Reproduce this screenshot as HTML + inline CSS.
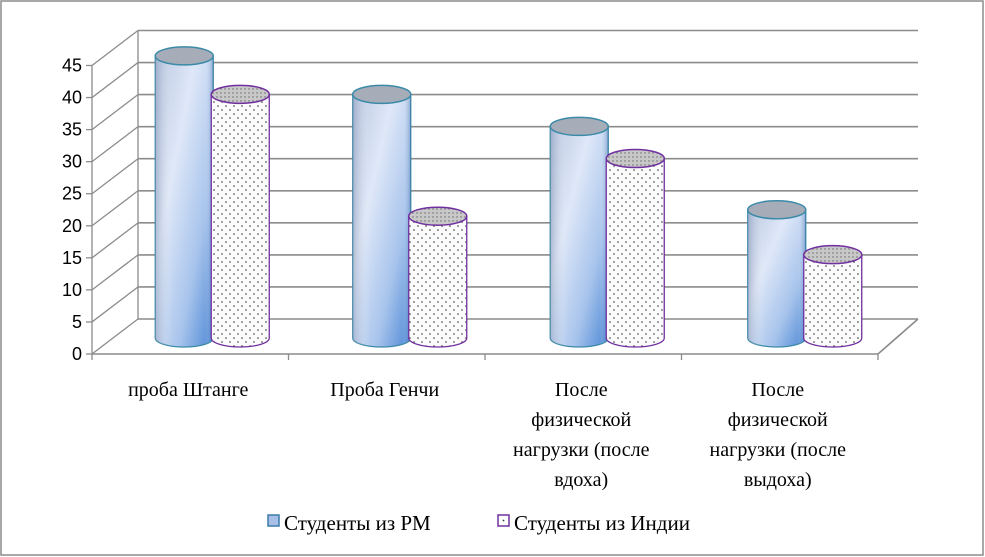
<!DOCTYPE html>
<html><head><meta charset="utf-8"><style>
html,body{margin:0;padding:0;background:#fff}
svg{display:block}
.serif{font-family:"Liberation Serif","Times New Roman","DejaVu Serif","Noto Serif CJK SC",serif}
.sans{font-family:"Liberation Sans","DejaVu Sans",sans-serif}
</style></head><body>
<svg id="c" width="985" height="557" viewBox="0 0 985 557" xmlns="http://www.w3.org/2000/svg">
<defs>
<linearGradient id="gBlue" x1="0" y1="0" x2="1" y2="1">
<stop offset="0" stop-color="#b8c6e0"/><stop offset="0.35" stop-color="#dfe8f8"/><stop offset="0.7" stop-color="#a8c4ec"/><stop offset="1" stop-color="#4a86d4"/>
</linearGradient>
<linearGradient id="gBlueH" x1="0" y1="0" x2="1" y2="0">
<stop offset="0" stop-color="#8090b0" stop-opacity="0.5"/><stop offset="0.3" stop-color="#fff" stop-opacity="0"/><stop offset="0.85" stop-color="#fff" stop-opacity="0"/><stop offset="1" stop-color="#3060a0" stop-opacity="0.4"/>
</linearGradient>
<pattern id="dots" width="8" height="8" patternUnits="userSpaceOnUse">
<rect width="8" height="8" fill="#fbfbfb"/><circle cx="2" cy="2" r="0.8" fill="#333"/><circle cx="6" cy="6" r="0.8" fill="#333"/>
</pattern>
<pattern id="dotsTop" width="4" height="4" patternUnits="userSpaceOnUse">
<rect width="4" height="4" fill="#c8c8c8"/><circle cx="1" cy="1" r="0.7" fill="#666"/>
</pattern>
</defs>
<rect x="1" y="1" width="982" height="554" fill="#fff" stroke="#8c8c8c" stroke-width="1.5"/>
<g id="grid"></g>
<g id="bars"></g>
<g id="labels"></g>
<g class="serif" font-size="21" fill="#000">
<rect x="268" y="515" width="11" height="11" fill="#a8c0e8" stroke="#3a7ca8" stroke-width="1.5"/>
<text x="284" y="530" class="serif">Студенты из РМ</text>
<rect x="498" y="515" width="11" height="11" fill="#fff" stroke="#7030a0" stroke-width="1.5"/>
<circle cx="503.5" cy="520.5" r="0.9" fill="#333"/>
<text x="514" y="530" class="serif">Студенты из Индии</text>
</g>
</svg>
<script>
const categories = [["проба Штанге"],["Проба Генчи"],["После","физической","нагрузки (после","вдоха)"],["После","физической","нагрузки (после","выдоха)"]];
const seriesRM = [44, 38, 33, 20];
const seriesIndia = [38, 19, 28, 13];
const ticks = [0,5,10,15,20,25,30,35,40,45];

const NS="http://www.w3.org/2000/svg";
function mk(tag,attrs,parent){const e=document.createElementNS(NS,tag);for(const k in attrs)e.setAttribute(k,attrs[k]);parent.appendChild(e);return e;}
const fx0=92, fx1=878, fy0=354, unit=(354-65.5)/45, dx=46, dy=-35;
const yFront=v=>fy0-v*unit;
const grid=document.getElementById('grid'), bars=document.getElementById('bars'), labels=document.getElementById('labels');
ticks.forEach(t=>{
  const yb=yFront(t)+dy;
  const l=mk('line',{x1:fx0+dx,y1:yb,x2:fx1+40,y2:yb,stroke:'#8c8c8c','stroke-width':1.6},grid);
  
  
  mk('line',{x1:fx0,y1:yFront(t),x2:fx0+dx,y2:yb,stroke:'#8c8c8c','stroke-width':1.3},grid);
  mk('line',{x1:fx0-6,y1:yFront(t),x2:fx0,y2:yFront(t),stroke:'#8c8c8c','stroke-width':1.3},grid);
  const tx=mk('text',{x:fx0-10,y:yFront(t)+6,'text-anchor':'end','class':'sans','font-size':18,fill:'#000'},grid);
  tx.textContent=t;
  
  
});
mk('line',{x1:fx0,y1:yFront(0),x2:fx0,y2:yFront(45),stroke:'#8c8c8c','stroke-width':1.3},grid);
mk('line',{x1:fx0+dx,y1:yFront(0)+dy,x2:fx0+dx,y2:yFront(45)+dy,stroke:'#8c8c8c','stroke-width':1.3},grid);
mk('polyline',{points:`${fx0},${fy0} ${fx1},${fy0} ${fx1+dx-6},${fy0+dy}`,fill:'none',stroke:'#8c8c8c','stroke-width':1.6},grid);
const gw=(fx1-fx0)/categories.length;
for(let i=0;i<=categories.length;i++){mk('line',{x1:fx0+i*gw,y1:fy0,x2:fx0+i*gw,y2:fy0+6,stroke:'#8c8c8c','stroke-width':1.3},grid);}
const base=338, rx=29, ry=9;
function cyl(cx,v,blue,name){
  const g=mk('g',{},bars);
  
  
  const top=base-v*unit;
  const stroke=blue?'#3a8aa8':'#7030a0';
  const d=`M${cx-rx},${top} L${cx-rx},${base} A${rx},${ry} 0 0 0 ${cx+rx},${base} L${cx+rx},${top} Z`;
  mk('path',{d,fill:blue?'url(#gBlue)':'url(#dots)',stroke,'stroke-width':1.3},g);
  if(blue) mk('path',{d,fill:'url(#gBlueH)'},g);
  mk('ellipse',{cx,cy:top,rx,ry,fill:blue?'#a7adb8':'url(#dotsTop)',stroke,'stroke-width':1.5},g);
}
categories.forEach((c,i)=>{
  const center=fx0+gw*(i+0.5)+(i*1)+22;
  cyl(center-3-rx+4,seriesRM[i],true,'bar-rm-'+(i+1));
  cyl(center-3+rx+2,seriesIndia[i],false,'bar-india-'+(i+1));
  const t=mk('text',{'text-anchor':'middle','class':'serif','font-size':20,fill:'#000'},labels);
  
  
  c.forEach((line,j)=>{const s=mk('tspan',{x:fx0+gw*(i+0.5)-2,y:396+j*30},t);s.textContent=line;});
});
</script>
</body></html>
